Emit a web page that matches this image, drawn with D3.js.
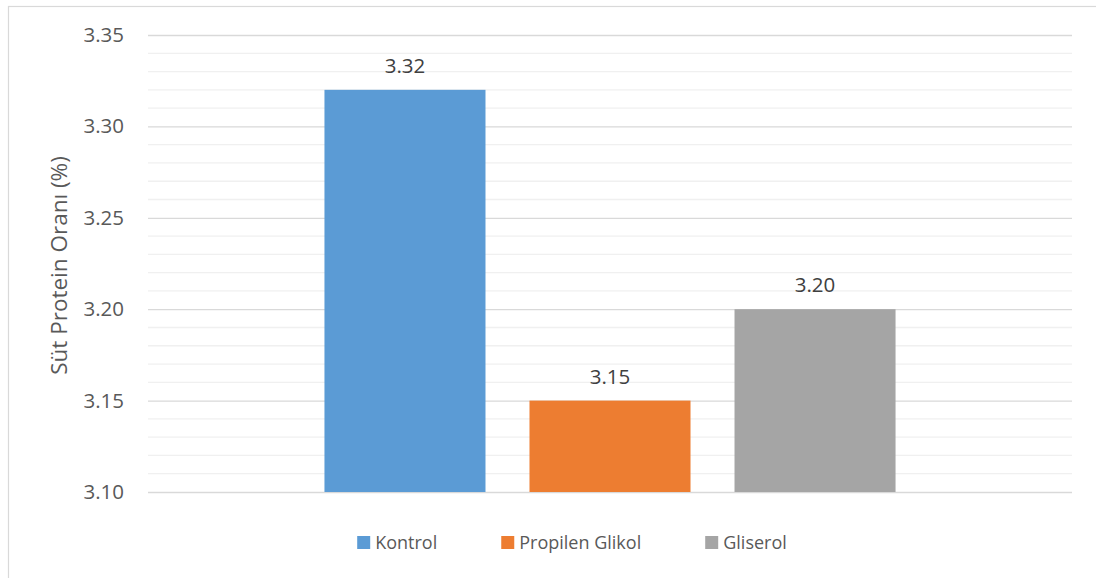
<!DOCTYPE html>
<html>
<head>
<meta charset="utf-8">
<script src="https://cdn.jsdelivr.net/npm/d3@7"></script>
<style>
  html, body { margin: 0; padding: 0; background: #ffffff; }
  svg { display: block; font-family: "Open Sans", "Noto Sans", sans-serif; }
</style>
</head>
<body>
<svg id="chart" width="1096" height="578"></svg>
<script>
// Milk protein ratio by treatment group
const categories = ["Süt Protein"];
const seriesNames = ["Kontrol", "Propilen Glikol", "Gliserol"];
const seriesValues = [3.32, 3.15, 3.20];
const seriesColors = ["#5b9bd5", "#ed7d31", "#a5a5a5"];
const majorTicks = [3.10, 3.15, 3.20, 3.25, 3.30, 3.35];
const minorTicks = d3.range(310, 336, 1).map(v => v / 100);
const yTitle = "Süt Protein Oranı (%)";

const svg = d3.select("#chart");

// outer chart frame
svg.append("rect")
  .attr("x", 8.5).attr("y", 6.5)
  .attr("width", 1200).attr("height", 700)
  .attr("fill", "none")
  .attr("stroke", "#d9d9d9")
  .attr("stroke-width", 1.2);

const plot = { left: 148, right: 1072, top: 35, bottom: 492 };

const y = d3.scaleLinear()
  .domain([3.10, 3.35])
  .range([plot.bottom, plot.top]);

const x0 = d3.scaleBand()
  .domain(categories)
  .range([plot.left, plot.right])
  .paddingInner(0)
  .paddingOuter(0.309);

const x1 = d3.scaleBand()
  .domain(seriesNames)
  .range([0, x0.bandwidth()])
  .paddingInner(0.2146)
  .paddingOuter(0);

// minor gridlines
svg.append("g")
  .selectAll("line")
  .data(minorTicks.filter(t => !majorTicks.some(m => Math.abs(m - t) < 1e-9)))
  .join("line")
  .attr("x1", plot.left).attr("x2", plot.right)
  .attr("y1", d => y(d)).attr("y2", d => y(d))
  .attr("stroke", "#f0f0f0")
  .attr("stroke-width", 1.3);

// major gridlines and value labels via a left axis
const yAxis = d3.axisLeft(y)
  .tickValues(majorTicks)
  .tickFormat(d3.format(".2f"))
  .tickSize(-(plot.right - plot.left))
  .tickPadding(24);

const gy = svg.append("g")
  .attr("transform", `translate(${plot.left},0)`)
  .call(yAxis);
gy.select(".domain").remove();
gy.selectAll(".tick line")
  .attr("stroke", "#d9d9d9")
  .attr("stroke-width", 1.3);
gy.selectAll(".tick text")
  .attr("fill", "#595959")
  .style("font-size", "20.5px")
  .style("font-family", "'Open Sans', sans-serif");

// bars
const group = svg.append("g")
  .attr("transform", `translate(${x0(categories[0])},0)`);

group.selectAll("rect")
  .data(seriesNames.map((name, i) => ({ name, value: seriesValues[i], color: seriesColors[i] })))
  .join("rect")
  .attr("x", d => x1(d.name))
  .attr("y", d => y(d.value))
  .attr("width", x1.bandwidth())
  .attr("height", d => y(3.10) - y(d.value))
  .attr("fill", d => d.color);

// value labels above bars
group.selectAll("text.value")
  .data(seriesNames.map((name, i) => ({ name, value: seriesValues[i] })))
  .join("text")
  .attr("class", "value")
  .attr("x", d => x1(d.name) + x1.bandwidth() / 2)
  .attr("y", d => y(d.value) - 17)
  .attr("text-anchor", "middle")
  .attr("fill", "#404040")
  .style("font-size", "20.5px")
  .text(d => d3.format(".2f")(d.value));

// y-axis title
svg.append("text")
  .attr("transform", `translate(67,${(plot.top + plot.bottom) / 2 + 2}) rotate(-90)`)
  .attr("text-anchor", "middle")
  .attr("fill", "#595959")
  .style("font-size", "22.5px")
  .text(yTitle);

// legend
const legend = svg.append("g");
const items = legend.selectAll("g")
  .data(seriesNames.map((name, i) => ({ name, color: seriesColors[i] })))
  .join("g");
items.append("rect")
  .attr("width", 13).attr("height", 13)
  .attr("y", -13)
  .attr("fill", d => d.color);
items.append("text")
  .attr("x", 18)
  .attr("fill", "#595959")
  .style("font-size", "18px")
  .text(d => d.name);

let cursor = 0;
const gap = 64;
items.each(function () {
  const w = this.getBBox().width;
  d3.select(this).attr("data-x", cursor);
  d3.select(this).attr("transform", `translate(${cursor},549)`);
  cursor += w + gap;
});
const total = cursor - gap;
legend.attr("transform", `translate(${572 - total / 2},0)`);
</script>
</body>
</html>
